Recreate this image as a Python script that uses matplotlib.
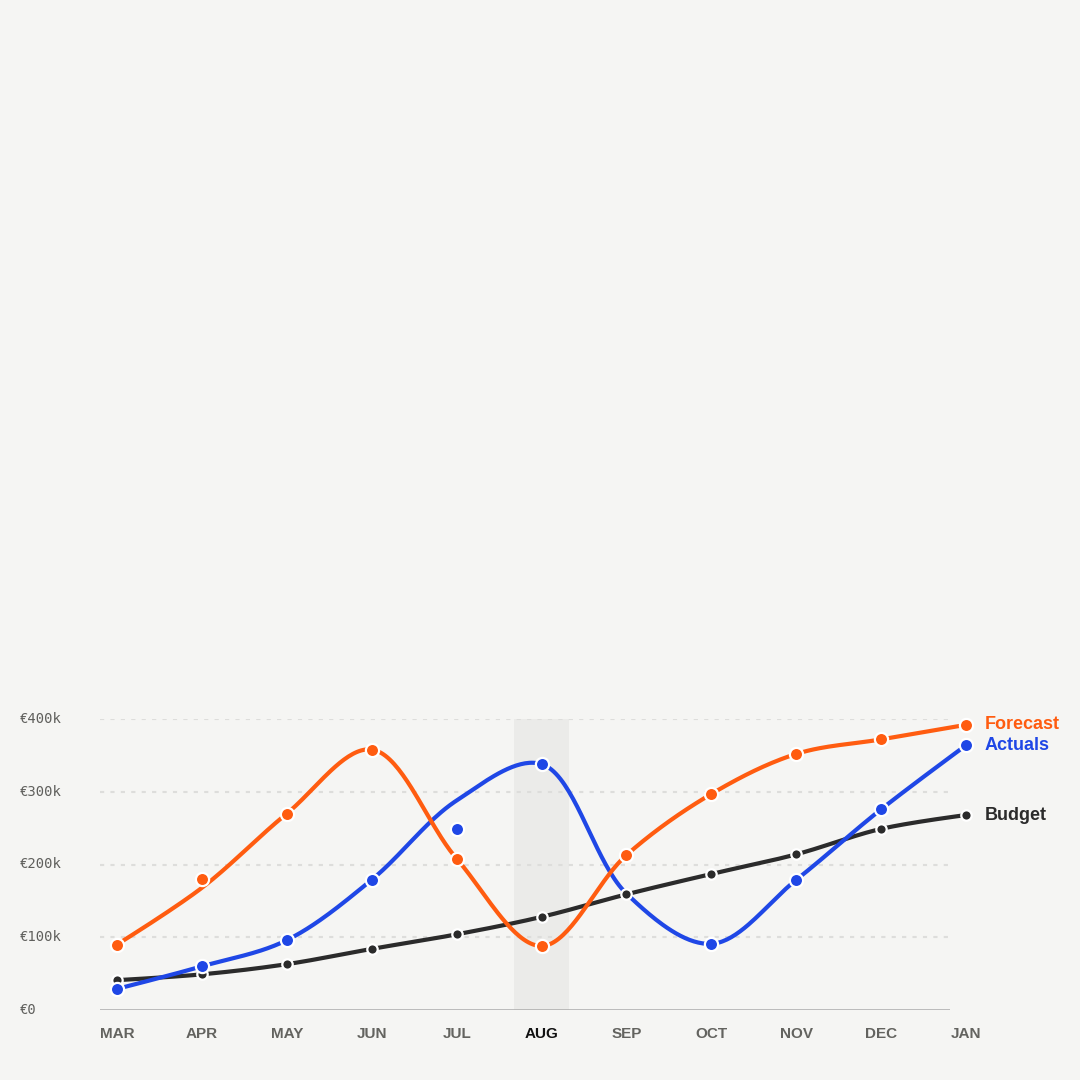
import numpy as np
import matplotlib.pyplot as plt

months = ["MAR", "APR", "MAY", "JUN", "JUL", "AUG", "SEP", "OCT", "NOV", "DEC", "JAN"]
highlight = "AUG"

# values in €k
forecast_line = [90, 168, 270, 358, 208, 88, 213, 297, 352, 372, 392]
forecast_pts = [90, 180, 270, 358, 208, 88, 213, 297, 352, 372, 392]

actuals_line = [29, 60, 96, 179, 288, 338, 160, 91, 179, 276, 364]
actuals_pts = [29, 60, 96, 179, 249, 338, None, 91, 179, 276, 364]

budget_line = [41, 49, 63, 84, 104, 128, 159, 187, 214, 249, 268]
budget_pts = budget_line

y_ticks = [0, 100, 200, 300, 400]
y_labels = ["€0", "€100k", "€200k", "€300k", "€400k"]

BG = "#f5f5f3"
ORANGE = "#ff5c10"
BLUE = "#1f47e6"
DARK = "#2b2b2b"

# pixel scale used for the curve shape (px per month, px per €k)
SX, SY = 84.9, 0.7275


def catmull_rom(y, alpha=0.5, n=40):
    """Centripetal Catmull-Rom through the points, shaped in pixel space."""
    p = np.column_stack([np.arange(len(y)) * SX, np.asarray(y, float) * SY])
    pts = np.vstack([p[0], p, p[-1]])
    out = [p[:1]]
    t = np.linspace(0, 1, n)[1:, None]
    for i in range(1, len(pts) - 2):
        p0, p1, p2, p3 = pts[i - 1], pts[i], pts[i + 1], pts[i + 2]
        l01 = np.hypot(*(p1 - p0)) ** alpha
        l12 = np.hypot(*(p2 - p1)) ** alpha
        l23 = np.hypot(*(p3 - p2)) ** alpha
        c1, c2 = p1.copy(), p2.copy()
        if l01 > 1e-9:
            a = 2 * l01**2 + 3 * l01 * l12 + l12**2
            c1 = (p1 * a - p0 * l12**2 + p2 * l01**2) / (3 * l01 * (l01 + l12))
        if l23 > 1e-9:
            b = 2 * l23**2 + 3 * l23 * l12 + l12**2
            c2 = (p2 * b + p1 * l23**2 - p3 * l12**2) / (3 * l23 * (l23 + l12))
        seg = ((1 - t) ** 3) * p1 + 3 * ((1 - t) ** 2) * t * c1 + 3 * (1 - t) * t**2 * c2 + t**3 * p2
        out.append(seg)
    c = np.vstack(out)
    return c[:, 0] / SX, c[:, 1] / SY


fig = plt.figure(figsize=(10.8, 10.8), dpi=100, facecolor=BG)
ax = fig.add_axes([100 / 1080, 70 / 1080, 850 / 1080, 291 / 1080])
ax.set_facecolor(BG)
ax.set_xlim(-0.2, 9.81)
ax.set_ylim(0, 400)
for s in ax.spines.values():
    s.set_visible(False)
ax.set_xticks([])
ax.set_yticks([])

x = np.arange(len(months))
hi = months.index(highlight)
ax.fill_between([hi - 0.324, hi + 0.324], 0, 400, color="#ebebe9", lw=0, zorder=0)

for v in y_ticks[1:]:
    ax.axhline(v, color="#dddddb", lw=1.5, ls=(0, (2, 3)), zorder=1)
ax.axhline(0, color="#aaaaaa", lw=1.8, zorder=1)

series = [
    (budget_line, budget_pts, DARK, 7.5, "Budget"),
    (actuals_line, actuals_pts, BLUE, 9.5, "Actuals"),
    (forecast_line, forecast_pts, ORANGE, 9.5, "Forecast"),
]

for i, (line, pts, color, ms, name) in enumerate(series):
    sx, sy = catmull_rom(line)
    ax.plot(sx, sy, color=color, lw=3, solid_capstyle="round", zorder=2 + i, clip_on=False)

for i, (line, pts, color, ms, name) in enumerate(series):
    px = [xi for xi, p in zip(x, pts) if p is not None]
    py = [p for p in pts if p is not None]
    ax.plot(px, py, "o", color=color, ms=ms, mec="white", mew=1.6, zorder=6 + i, clip_on=False)
    ax.text(x[-1] + 0.22, pts[-1], name, color=color, fontsize=13, fontweight="bold",
            family="Liberation Sans", ha="left", va="center", clip_on=False)

for v, lab in zip(y_ticks, y_labels):
    ax.text(-80 / 850, v, lab, transform=ax.get_yaxis_transform(), ha="left", va="center",
            family="DejaVu Sans Mono", fontsize=10, color="#5f5f5c")

for xi, m in zip(x, months):
    is_hi = m == highlight
    ax.text(xi, -24 / 291, m, transform=ax.get_xaxis_transform(), ha="center", va="center",
            family="Liberation Sans", fontsize=11, fontweight="bold",
            color="#111111" if is_hi else "#63635f")

fig.savefig("out.png", dpi=100, facecolor=BG)
